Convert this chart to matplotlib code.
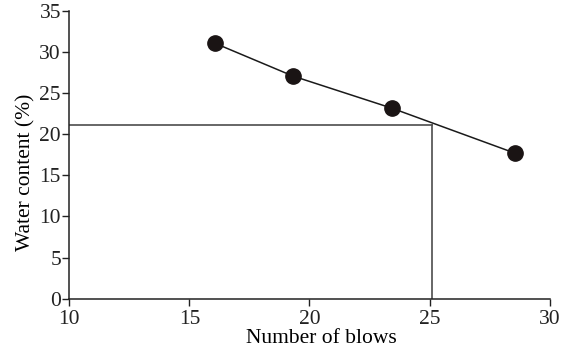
import matplotlib
matplotlib.use("Agg")
import matplotlib.pyplot as plt

blows = [16.07, 19.31, 23.45, 28.57]
water = [31.07, 27.09, 23.16, 17.69]
ll_blows = 25.09
ll_water = 21.13
xticks = [10, 15, 20, 25, 30]
yticks = [0, 5, 10, 15, 20, 25, 30, 35]

plt.rcParams['font.family'] = ['Liberation Serif', 'DejaVu Serif']

fig = plt.figure(figsize=(5.66, 3.56), dpi=100)
ax = fig.add_axes([0.1224, 0.161, 0.9712 - 0.1224, 0.969 - 0.161])

ax.plot([10, ll_blows], [ll_water, ll_water], color='#4d4d4d', lw=1.2, zorder=1)
ax.plot([ll_blows, ll_blows], [0, ll_water], color='#4d4d4d', lw=1.2, zorder=1)
ax.plot(blows, water, color='#1a1a1a', lw=1.1, marker='o', markersize=11,
        markerfacecolor='#1a1414', markeredgecolor='#1a1414', zorder=3)

ax.set_xlim(10, 30)
ax.set_ylim(0, 35)
ax.set_xticks(xticks)
ax.set_yticks(yticks)
for s in ['top', 'right']:
    ax.spines[s].set_visible(False)
for s in ['left', 'bottom']:
    ax.spines[s].set_linewidth(1.1)
    ax.spines[s].set_color('#222222')
ax.tick_params(direction='out', length=5, width=1.0, labelsize=15.5, pad=1, colors='#222222')
ax.tick_params(axis='x', pad=3)
ax.set_xlabel('Number of blows', fontsize=15.5)
ax.set_ylabel('Water content (%)', fontsize=15.5)
ax.xaxis.set_label_coords(0.524, -0.107)
ax.yaxis.set_label_coords(-0.071, 0.44)

fig.savefig('out.png', dpi=100)
